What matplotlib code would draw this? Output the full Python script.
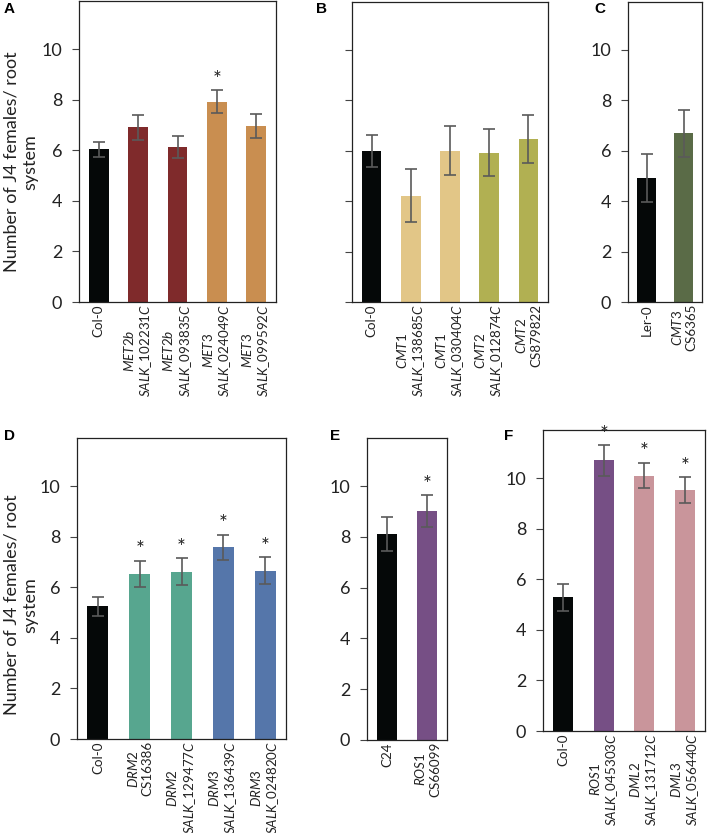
import matplotlib
matplotlib.use('Agg')
import matplotlib.pyplot as plt

plt.rcParams['font.family'] = ['Lato', 'DejaVu Sans']
plt.rcParams['mathtext.fontset'] = 'custom'
plt.rcParams['mathtext.rm'] = 'Lato'
plt.rcParams['mathtext.it'] = 'Lato:italic'


def it(s):
    # italic line via mathtext
    return '$\\mathit{' + s.replace('_', '\\_') + '}$'


# colours
BLACK = '#050808'
MET2B = '#7f2a2b'
MET3 = '#c98e50'
CMT1 = '#e2c687'
CMT2 = '#b1b052'
CMT3 = '#5a6b47'
DRM2 = '#57a68f'
DRM3 = '#5576aa'
ROS1 = '#764f85'
DML = '#c9959b'

# panel A
a_labels = ['Col-0',
            it('MET2b') + '\n' + it('SALK_102231C'),
            it('MET2b') + '\n' + it('SALK_093835C'),
            it('MET3') + '\n' + it('SALK_024049C'),
            it('MET3') + '\n' + it('SALK_099592C')]
a_vals = [6.03, 6.9, 6.13, 7.92, 6.97]
a_errs = [0.31, 0.5, 0.45, 0.45, 0.47]
a_sig = [False, False, False, True, False]
a_colors = [BLACK, MET2B, MET2B, MET3, MET3]

# panel B
b_labels = ['Col-0',
            it('CMT1') + '\n' + it('SALK_138685C'),
            it('CMT1') + '\n' + it('SALK_030404C'),
            it('CMT2') + '\n' + it('SALK_012874C'),
            it('CMT2') + '\nCS879822']
b_vals = [6.0, 4.22, 6.0, 5.93, 6.47]
b_errs = [0.63, 1.05, 0.97, 0.93, 0.95]
b_sig = [False] * 5
b_colors = [BLACK, CMT1, CMT1, CMT2, CMT2]

# panel C
c_labels = ['Ler-0', it('CMT3') + '\nCS6365']
c_vals = [4.92, 6.7]
c_errs = [0.95, 0.93]
c_sig = [False, False]
c_colors = [BLACK, CMT3]

# panel D
d_labels = ['Col-0',
            it('DRM2') + '\nCS16386',
            it('DRM2') + '\n' + it('SALK_129477C'),
            it('DRM3') + '\n' + it('SALK_136439C'),
            it('DRM3') + '\n' + it('SALK_024820C')]
d_vals = [5.25, 6.52, 6.62, 7.58, 6.65]
d_errs = [0.37, 0.52, 0.53, 0.5, 0.53]
d_sig = [False, True, True, True, True]
d_colors = [BLACK, DRM2, DRM2, DRM3, DRM3]

# panel E
e_labels = ['C24', it('ROS1') + '\nCS66099']
e_vals = [8.12, 9.02]
e_errs = [0.66, 0.62]
e_sig = [False, True]
e_colors = [BLACK, ROS1]

# panel F
f_labels = ['Col-0',
            it('ROS1') + '\n' + it('SALK_045303C'),
            it('DML2') + '\n' + it('SALK_131712C'),
            it('DML3') + '\n' + it('SALK_056440C')]
f_vals = [5.28, 10.7, 10.1, 9.53]
f_errs = [0.52, 0.6, 0.5, 0.5]
f_sig = [False, True, True, True]
f_colors = [BLACK, ROS1, DML, DML]

W, H = 709, 833
fig = plt.figure(figsize=(W / 100, H / 100), dpi=100)


def add_ax(left, right, top, bottom):
    return fig.add_axes([left / W, 1 - bottom / H, (right - left) / W, (bottom - top) / H])


def panel(ax, labels, vals, errs, colors, sig, show_y=True):
    x = list(range(len(vals)))
    ax.bar(x, vals, width=0.5, color=colors, zorder=2)
    ax.errorbar(x, vals, yerr=errs, fmt='none', ecolor='#5a5a5a',
                elinewidth=1.2, capsize=4, capthick=1.2, zorder=3)
    for i, (v, e, s) in enumerate(zip(vals, errs, sig)):
        if s:
            ax.text(i, v + e + 0.02, '*', ha='center', va='bottom', fontsize=15, color='#222222')
    ax.set_xlim(-0.5, len(vals) - 0.5)
    ax.set_ylim(0, 11.9)
    ax.set_yticks([0, 2, 4, 6, 8, 10])
    if not show_y:
        ax.set_yticklabels([])
    ax.set_xticks(x)
    ax.set_xticklabels(labels, rotation=90, multialignment='center', fontsize=9.6, color='#222222')
    ax.tick_params(axis='x', length=0, pad=1.5)
    ax.tick_params(axis='y', length=5, width=0.8, pad=7, labelsize=13, color='#444444',
                   labelcolor='#222222')
    for sp in ax.spines.values():
        sp.set_linewidth(0.9)
        sp.set_color('#222222')


axA = add_ax(79, 276, 1, 302)
axB = add_ax(352, 548, 2, 302)
axC = add_ax(628, 702, 2, 302)
axD = add_ax(77, 286, 438, 739)
axE = add_ax(367, 447, 438, 740)
axF = add_ax(543, 705, 430, 731)

panel(axA, a_labels, a_vals, a_errs, a_colors, a_sig)
panel(axB, b_labels, b_vals, b_errs, b_colors, b_sig, show_y=False)
panel(axC, c_labels, c_vals, c_errs, c_colors, c_sig)
panel(axD, d_labels, d_vals, d_errs, d_colors, d_sig)
panel(axE, e_labels, e_vals, e_errs, e_colors, e_sig)
panel(axF, f_labels, f_vals, f_errs, f_colors, f_sig)

ylab = 'Number of J4 females/ root\nsystem'
fig.text(21 / W, 1 - 162 / H, ylab, rotation=90, ha='center', va='center',
         multialignment='center', fontsize=13, color='#222222')
fig.text(21 / W, 1 - 605 / H, ylab, rotation=90, ha='center', va='center',
         multialignment='center', fontsize=13, color='#222222')

for letter, px, py in [('A', 4, 9), ('B', 316, 9), ('C', 594, 9),
                       ('D', 4, 436), ('E', 330, 436), ('F', 504, 436)]:
    fig.text(px / W, 1 - py / H, letter, ha='left', va='center', fontsize=11,
             fontweight='bold', family=['Liberation Sans', 'DejaVu Sans'])

fig.savefig('out.png', dpi=100)
